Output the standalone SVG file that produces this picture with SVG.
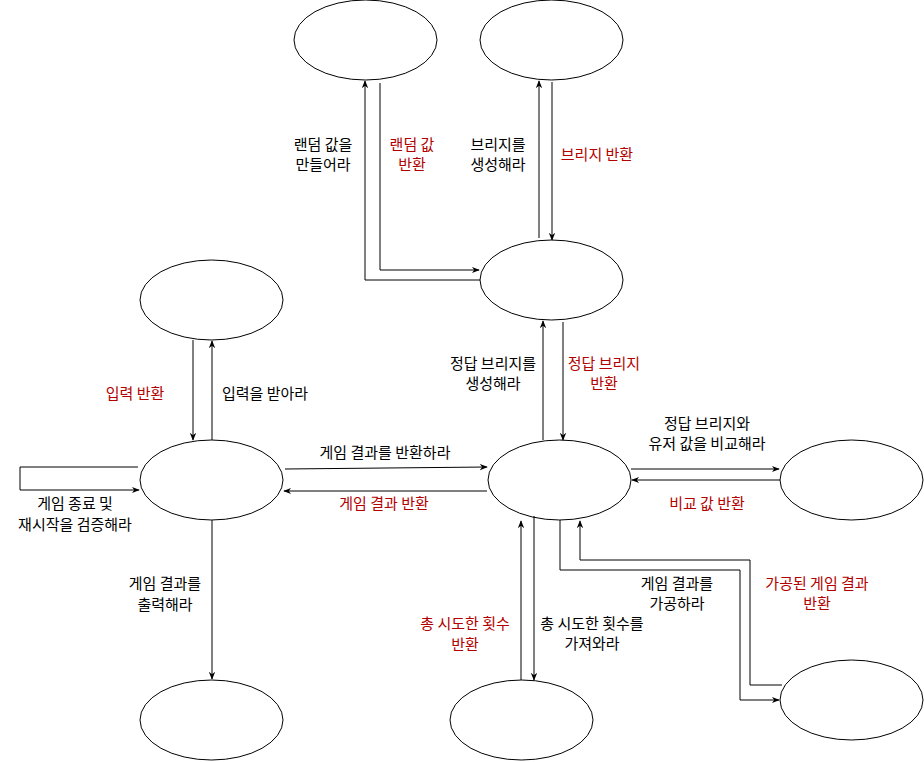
<svg xmlns="http://www.w3.org/2000/svg" width="924" height="762" viewBox="0 0 924 762">
<style>
.n{fill:#fff;stroke:#000;stroke-width:1}
.e{fill:none;stroke:#000;stroke-width:1}
text{font-family:"Noto Sans CJK KR","Noto Sans",sans-serif;font-size:15px;text-anchor:middle;fill:#000}
.r{fill:#B20000}
</style>
<defs>
<marker id="a" viewBox="0 0 10 10" refX="9" refY="5" markerWidth="8" markerHeight="8" orient="auto" markerUnits="userSpaceOnUse">
<path d="M0,1 L10,5 L0,9 L3,5 Z" fill="#000"/>
</marker>
</defs>
<g id="nodes">
<g id="random"><ellipse class="n" cx="365.5" cy="40" rx="71.5" ry="40"/></g>
<g id="bridgeMaker"><ellipse class="n" cx="551.5" cy="40" rx="71.5" ry="40"/></g>
<g id="bridgeGen"><ellipse class="n" cx="551.5" cy="280" rx="71.5" ry="40"/></g>
<g id="input"><ellipse class="n" cx="211.5" cy="300" rx="71.5" ry="40"/></g>
<g id="controller"><ellipse class="n" cx="211.5" cy="480" rx="71.5" ry="40"/></g>
<g id="game"><ellipse class="n" cx="559.5" cy="480" rx="71.5" ry="40"/></g>
<g id="compare"><ellipse class="n" cx="851.5" cy="480" rx="71.5" ry="40"/></g>
<g id="output"><ellipse class="n" cx="211.5" cy="720" rx="71.5" ry="40"/></g>
<g id="count"><ellipse class="n" cx="521.5" cy="720" rx="71.5" ry="40"/></g>
<g id="result"><ellipse class="n" cx="851.5" cy="700" rx="71.5" ry="40"/></g>
</g>
<g id="connectors">
<path class="e" d="M480,280 H365 V81" marker-end="url(#a)"/>
<path class="e" d="M380,83 V270 H479" marker-end="url(#a)"/>
<path class="e" d="M539,238 V81" marker-end="url(#a)"/>
<path class="e" d="M552,82 V240" marker-end="url(#a)"/>
<path class="e" d="M543,440 V321" marker-end="url(#a)"/>
<path class="e" d="M563,322 V440" marker-end="url(#a)"/>
<path class="e" d="M631,469 H779" marker-end="url(#a)"/>
<path class="e" d="M780,480 H632" marker-end="url(#a)"/>
<path class="e" d="M285,469 L487,467" marker-end="url(#a)"/>
<path class="e" d="M487,491 H284" marker-end="url(#a)"/>
<path class="e" d="M138,467 H20 V490 H139" marker-end="url(#a)"/>
<path class="e" d="M193,340 V440" marker-end="url(#a)"/>
<path class="e" d="M212,440 V341" marker-end="url(#a)"/>
<path class="e" d="M212,520 V679" marker-end="url(#a)"/>
<path class="e" d="M521,680 V521" marker-end="url(#a)"/>
<path class="e" d="M534,516 V680" marker-end="url(#a)"/>
<path class="e" d="M560,520 V570 H740 V700 H779" marker-end="url(#a)"/>
<path class="e" d="M782,685 H750 V560 H580 V521" marker-end="url(#a)"/>
</g>
<g id="labels">
<text x="323" y="150">랜덤 값을</text><text x="323" y="170">만들어라</text>
<text class="r" x="412" y="150">랜덤 값</text><text class="r" x="412" y="170">반환</text>
<text x="498" y="150">브리지를</text><text x="498" y="170">생성해라</text>
<text class="r" x="597" y="160">브리지 반환</text>
<text x="493" y="369">정답 브리지를</text><text x="493" y="389">생성해라</text>
<text class="r" x="604" y="369">정답 브리지</text><text class="r" x="604" y="389">반환</text>
<text x="707" y="429">정답 브리지와</text><text x="707" y="449">유저 값을 비교해라</text>
<text class="r" x="707" y="509">비교 값 반환</text>
<text x="385" y="458">게임 결과를 반환하라</text>
<text class="r" x="384" y="509">게임 결과 반환</text>
<text x="75" y="509">게임 종료 및</text><text x="75" y="530">재시작을 검증해라</text>
<text class="r" x="135" y="399">입력 반환</text>
<text x="265" y="399">입력을 받아라</text>
<text x="165" y="589">게임 결과를</text><text x="165" y="610">출력해라</text>
<text class="r" x="465" y="629">총 시도한 횟수</text><text class="r" x="465" y="650">반환</text>
<text x="592" y="629">총 시도한 횟수를</text><text x="592" y="649">가져와라</text>
<text x="677" y="589">게임 결과를</text><text x="677" y="609">가공하라</text>
<text class="r" x="817" y="589">가공된 게임 결과</text><text class="r" x="817" y="609">반환</text>
</g>
</svg>
